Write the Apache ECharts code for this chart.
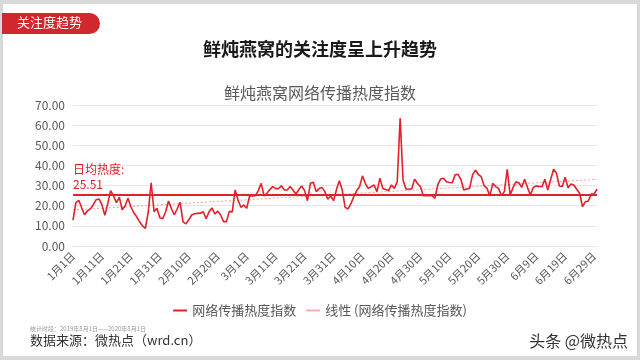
<!DOCTYPE html>
<html>
<head>
<meta charset="utf-8">
<script src="https://cdn.jsdelivr.net/npm/echarts@6/dist/echarts.min.js"></script>
<style>
html,body{margin:0;padding:0;background:#d9d9d9;}
#frame{position:absolute;left:3px;top:4px;width:634px;height:352px;background:#fff;}
#chart{width:640px;height:360px;position:absolute;left:-3px;top:-4px;}
</style>
</head>
<body>
<div id="frame"><div id="chart"></div></div>
<script>
// ---- data ----
const monthNames = ['1月','2月','3月','4月','5月','6月'];
const monthDays = [31, 29, 31, 30, 31, 30];
const heatIndex = [
12.9,21.5,22.7,19,15.5,17.5,18.4,20.5,23.0,23.3,
20.5,15.2,21,27.5,24.8,21.5,24.2,18,20,23.7,
19.5,16.5,14.5,12,10,8.8,17,31.4,17,18.7,
14,13.5,17,22.3,18.5,15.5,18.5,21.7,12,11,
13,15.4,16,16.2,16.3,17,13.5,17,18.9,15.9,
17.3,15.4,12.1,12.1,17.2,16.9,27.8,22.8,19.2,20.4,
18.7,24.8,24.8,25,27.5,31.1,24.8,26.2,28,29.5,
28.5,28.5,29.9,27.8,27.8,29.5,27.8,25.8,28,29.8,
27.5,22.5,31.1,31.6,27,28.5,29.1,27,23.2,24.8,
22.5,28,32.4,27.8,19.2,18.4,21,24.5,27.5,29.5,
34.8,31,28.6,29.5,30.3,27,33.6,28.6,28,27.5,
30.3,28.6,31.9,63.4,32.8,28.3,28.3,28.3,33.2,31,
29.5,25,25,25,25,23.7,30.3,33.3,33.6,31.9,
31.5,31.4,35.3,35.6,33,27.8,28.3,28.6,35.3,37.7,
35.5,34.4,30,28.6,24.8,31.1,29.5,28.6,25,27,
38.1,25.3,29,31.9,31.4,29.1,33.1,29,25.3,29.1,
29.8,29.6,29.5,33.1,27.8,33,38.1,36.1,29.8,29.5,
34.1,28.9,30.8,30.3,28.2,26.2,19.5,22,22.3,25.8,
25.8,28.2
];
const dailyAverage = 25.51;
const trendEnds = [17.9, 33.1];
const yTicks = [0, 10, 20, 30, 40, 50, 60, 70];
const seriesNames = ['网络传播热度指数', '线性 (网络传播热度指数)'];

// categories (day labels)
const categories = [];
monthNames.forEach((m, i) => { for (let d = 1; d <= monthDays[i]; d++) categories.push(m + d + '日'); });
const dayCount = heatIndex.length;
const trendData = categories.slice(0, dayCount).map((c, i) => i === 0 ? trendEnds[0] : (i === dayCount - 1 ? trendEnds[1] : null));

const FONT = '"Noto Sans CJK SC", "Noto Sans", sans-serif';
const chart = echarts.init(document.getElementById('chart'), null, {renderer: 'canvas'});
chart.setOption({
  animation: false,
  textStyle: {fontFamily: FONT},
  title: [
    {text: '鲜炖燕窝的关注度呈上升趋势', left: 'center', top: 35,
     textStyle: {fontSize: 18, fontWeight: 'bold', color: '#1a1a1a', fontFamily: FONT}},
    {text: '鲜炖燕窝网络传播热度指数', left: 'center', top: 80,
     textStyle: {fontSize: 16, fontWeight: 'normal', color: '#595959', fontFamily: FONT}}
  ],
  graphic: [
    {type: 'rect', left: 2, top: 13, shape: {width: 98, height: 21, r: [0, 11, 11, 0]}, style: {fill: '#d0282e'}},
    {type: 'text', left: 17, top: 16, style: {text: '关注度趋势', fill: '#fff', font: '13px ' + FONT}},
    {type: 'text', left: 30, top: 326, style: {text: '统计时段：2019年8月1日——2020年8月1日', fill: '#999', font: '6px ' + FONT}},
    {type: 'text', left: 30, top: 334, style: {text: '数据来源：微热点（wrd.cn）', fill: '#333', font: '13px ' + FONT}},
    {type: 'text', right: 12, top: 333, style: {text: '头条 @微热点', fill: '#333', font: '16px ' + FONT}}
  ],
  legend: {
    data: [{name: seriesNames[0], icon: 'rect'}, {name: seriesNames[1], icon: 'rect'}],
    bottom: 38, left: 'center', itemWidth: 14, itemHeight: 2, itemGap: 10,
    textStyle: {fontSize: 13, color: '#595959', fontFamily: FONT}
  },
  grid: {left: 73, right: 43, top: 105, bottom: 114, containLabel: false},
  xAxis: {
    type: 'category', data: categories.slice(0, dayCount), boundaryGap: false,
    axisLine: {show: true, lineStyle: {color: '#e6e6e6'}},
    axisTick: {show: false},
    axisLabel: {interval: 9, rotate: 45, fontSize: 11, color: '#595959', margin: 8, fontFamily: FONT},
    splitLine: {show: false}
  },
  yAxis: {
    type: 'value', min: yTicks[0], max: yTicks[yTicks.length - 1], interval: 10,
    axisLine: {show: false}, axisTick: {show: false},
    axisLabel: {formatter: v => v.toFixed(2), fontSize: 12, color: '#595959', margin: 8, fontFamily: FONT},
    splitLine: {lineStyle: {color: '#e6e6e6', width: 1}}
  },
  series: [
    {
      name: seriesNames[0], type: 'line', data: heatIndex, symbol: 'none', smooth: false,
      lineStyle: {color: '#e3202a', width: 1.6}, itemStyle: {color: '#e3202a'},
      z: 3,
      markLine: {
        silent: true, symbol: 'none',
        data: [{yAxis: dailyAverage}],
        lineStyle: {color: '#d9262c', width: 2, type: 'solid'},
        label: {show: true, position: 'insideStartTop', formatter: '日均热度:\n' + dailyAverage.toFixed(2),
                color: '#d9262c', fontSize: 12, lineHeight: 15, align: 'left', distance: [0, 3], fontFamily: FONT}
      }
    },
    {
      name: seriesNames[1], type: 'line', data: trendData, connectNulls: true, symbol: 'none',
      lineStyle: {color: '#f2a0a0', width: 1, type: [2, 2]}, itemStyle: {color: '#f4b0b0'}, z: 2
    }
  ]
});
</script>
</body>
</html>
